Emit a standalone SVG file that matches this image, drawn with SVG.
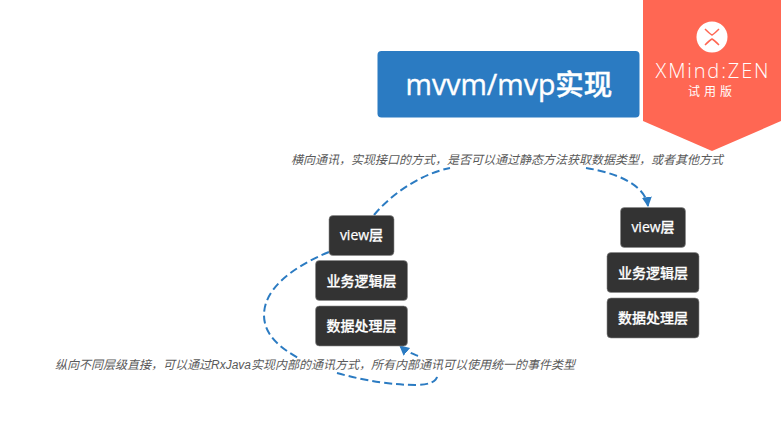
<svg xmlns="http://www.w3.org/2000/svg" width="781" height="438" viewBox="0 0 781 438">
<style>
text{font-family:"Open Sans","Noto Sans CJK SC",sans-serif;text-anchor:middle}
.n rect{fill:#333;stroke:#8a8a8a;stroke-width:.6}
.n text{fill:#fff;stroke:#fff;stroke-width:.25;font-size:14px;font-weight:500}
.c{fill:none;stroke:#2b7bc2;stroke-width:2;stroke-dasharray:8 4}
.l{fill:#5a5a5a;font-size:12px;font-style:italic;font-family:"Liberation Sans","Noto Sans CJK SC",sans-serif}
</style>
<defs><marker id="a" markerUnits="userSpaceOnUse" markerWidth="12" markerHeight="12" refX="9" refY="5" orient="auto"><path d="M0 0L10 5L0 10Z" fill="#2b7bc2"/></marker></defs>
<rect width="781" height="438" fill="#fff"/>
<g id="connectors">
<path class="c" d="M374 215C395 190 425 173 450 168"/>
<path class="c" d="M586 168C612 172 645 183 648 206" marker-end="url(#a)"/>
<path class="c" d="M329 252C290 268 264 290 264 315C264 335 280 348 300 359"/>
<path class="c" d="M337 373C365 381 395 385 415 385C430 385 438 381 437 375"/>
<path class="c" d="M418 356C413 354 407 352 400 346" marker-end="url(#a)"/>
</g>
<g id="central" >
<rect x="377.500" y="51" width="262" height="66.500" rx="4" fill="#2b7bc2"/>
<text x="509" y="95" font-size="28.500" font-weight="500" fill="#fff" stroke="#fff" stroke-width=".4">mvvm/mvp实现</text>
</g>
<g id="n1" class="n"><rect x="329" y="215.500" width="65" height="40" rx="4"/><text x="361.500" y="240">view层</text></g>
<g id="n2" class="n"><rect x="315.500" y="260.500" width="92" height="40" rx="4"/><text x="361.500" y="286">业务逻辑层</text></g>
<g id="n3" class="n"><rect x="315.500" y="306" width="92" height="40" rx="4"/><text x="361.500" y="331">数据处理层</text></g>
<g id="n4" class="n"><rect x="620.500" y="207.500" width="65" height="40" rx="4"/><text x="653" y="232">view层</text></g>
<g id="n5" class="n"><rect x="607" y="252.500" width="92" height="40" rx="4"/><text x="653" y="278">业务逻辑层</text></g>
<g id="n6" class="n"><rect x="607" y="298" width="92" height="40" rx="4"/><text x="653" y="323">数据处理层</text></g>
<text id="label-top" class="l" x="507" y="164">横向通讯，实现接口的方式，是否可以通过静态方法获取数据类型，或者其他方式</text>
<text id="label-bottom" class="l" x="315" y="369">纵向不同层级直接，可以通过RxJava实现内部的通讯方式，所有内部通讯可以使用统一的事件类型</text>
<g id="watermark">
<path d="M643 0H781V121L712 151L643 121Z" fill="#ff6753"/>
<circle cx="712" cy="37" r="15.500" fill="#fff"/>
<path d="M705 29C708 32 710 34 712 35C714 34 716 32 719 29M705 45C708 42 710 40 712 39C714 40 716 42 719 45" fill="none" stroke="#ff6753" stroke-width="1.500"/>
<text x="712" y="78" font-size="20" fill="#fff" style="font-weight:300" textLength="113">XMind:ZEN</text>
<text x="712" y="96" font-size="12" fill="#fff" letter-spacing="4">试用版</text>
</g>
</svg>
